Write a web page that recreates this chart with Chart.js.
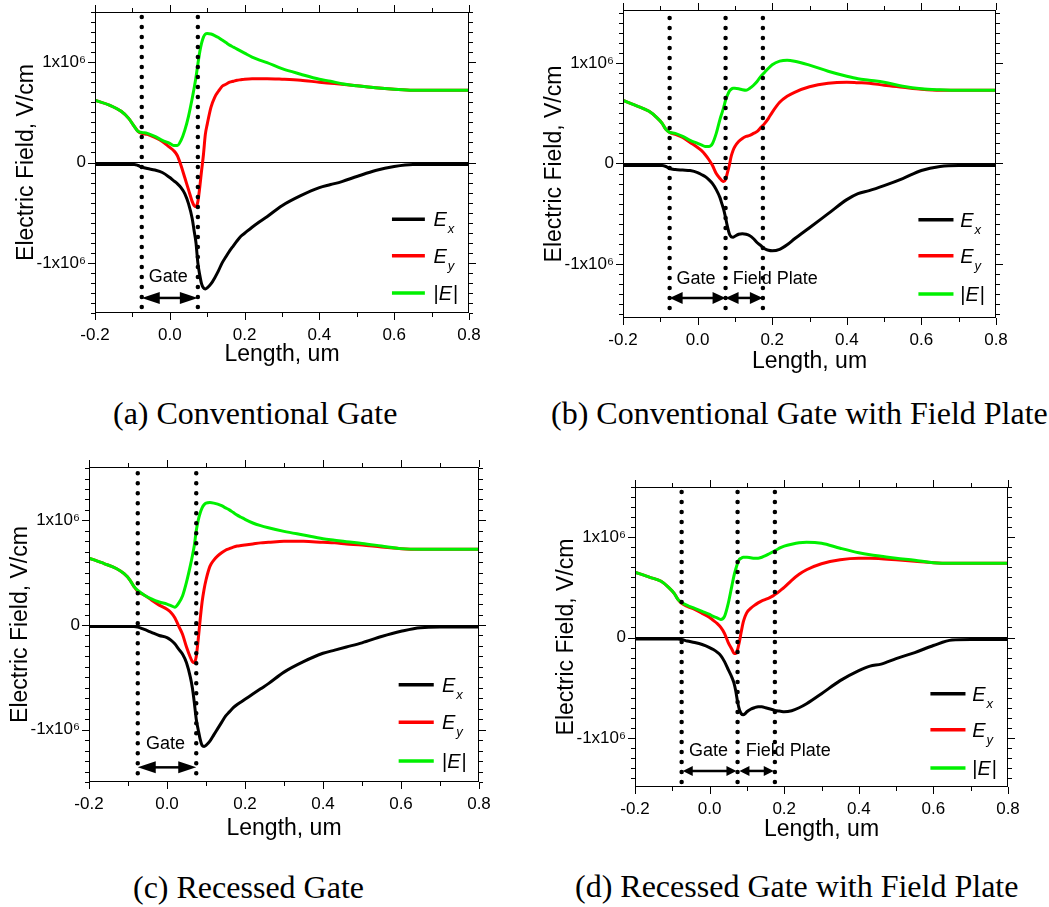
<!DOCTYPE html>
<html>
<head>
<meta charset="utf-8">
<script src="https://cdn.jsdelivr.net/npm/chart.js@4.4.0/dist/chart.umd.min.js"></script>
<style>
  body { margin: 0; background: #fff; width: 1049px; height: 907px; position: relative; overflow: hidden; }
  canvas { position: absolute; }
  .cap { position: absolute; font-family: "Liberation Serif", "Times New Roman", serif; font-size: 32px; line-height: 32px; white-space: nowrap; color: #000; }
</style>
</head>
<body>
<div class="cap" style="left:113px;top:397px">(a) Conventional Gate</div>
<div class="cap" style="left:551px;top:397px">(b) Conventional Gate with Field Plate</div>
<div class="cap" style="left:133px;top:871px">(c) Recessed Gate</div>
<div class="cap" style="left:575px;top:870px">(d) Recessed Gate with Field Plate</div>
<script>
// position along the channel, um
var LENGTH = [-0.2, -0.16, -0.13, -0.11, -0.095, -0.085, -0.075, -0.06, -0.04, -0.02, 0, 0.01, 0.02, 0.03, 0.04, 0.05, 0.06, 0.065, 0.07, 0.075, 0.08, 0.085, 0.09, 0.095, 0.1, 0.11, 0.12, 0.13, 0.14, 0.15, 0.16, 0.17, 0.18, 0.19, 0.2, 0.22, 0.24, 0.26, 0.3, 0.35, 0.4, 0.43, 0.46, 0.5, 0.55, 0.6, 0.65, 0.7, 0.8];

// field values in units of 1x10^6 V/cm
// (a) conventional gate
var A_EX = [-0.02,-0.02,-0.02,-0.02,-0.02,-0.03,-0.045,-0.06,-0.075,-0.10,-0.15,-0.18,-0.21,-0.25,-0.31,-0.41,-0.56,-0.68,-0.80,-1.00,-1.12,-1.21,-1.25,-1.26,-1.25,-1.21,-1.15,-1.08,-1.00,-0.94,-0.88,-0.83,-0.78,-0.735,-0.705,-0.645,-0.59,-0.54,-0.43,-0.33,-0.25,-0.22,-0.19,-0.14,-0.08,-0.04,-0.02,-0.02,-0.02];
var A_EY = [0.62,0.57,0.51,0.44,0.36,0.31,0.29,0.28,0.25,0.21,0.15,0.12,0.07,-0.03,-0.15,-0.27,-0.39,-0.43,-0.44,-0.39,-0.25,-0.08,0.08,0.28,0.38,0.55,0.65,0.71,0.76,0.78,0.80,0.81,0.82,0.825,0.83,0.835,0.835,0.835,0.83,0.82,0.80,0.79,0.78,0.765,0.745,0.73,0.72,0.72,0.72];
var A_E = [0.62,0.57,0.51,0.44,0.36,0.31,0.30,0.29,0.26,0.22,0.19,0.17,0.17,0.22,0.32,0.46,0.64,0.74,0.85,0.98,1.10,1.19,1.25,1.28,1.285,1.28,1.265,1.245,1.22,1.195,1.17,1.15,1.13,1.11,1.09,1.05,1.02,0.995,0.935,0.88,0.83,0.81,0.785,0.765,0.745,0.73,0.72,0.72,0.72];
// (b) conventional gate with field plate
var B_EX = [-0.02,-0.02,-0.02,-0.02,-0.02,-0.03,-0.05,-0.06,-0.065,-0.07,-0.09,-0.11,-0.13,-0.16,-0.20,-0.26,-0.34,-0.40,-0.46,-0.54,-0.63,-0.70,-0.73,-0.735,-0.725,-0.705,-0.70,-0.705,-0.72,-0.75,-0.79,-0.82,-0.85,-0.865,-0.87,-0.855,-0.81,-0.75,-0.64,-0.50,-0.36,-0.30,-0.27,-0.22,-0.15,-0.07,-0.03,-0.02,-0.02];
var B_EY = [0.63,0.57,0.52,0.46,0.40,0.34,0.31,0.29,0.26,0.21,0.16,0.13,0.09,0.04,-0.02,-0.10,-0.15,-0.17,-0.18,-0.16,-0.09,-0.02,0.07,0.13,0.17,0.22,0.25,0.27,0.28,0.30,0.32,0.36,0.40,0.45,0.51,0.61,0.67,0.71,0.765,0.80,0.81,0.805,0.80,0.78,0.76,0.74,0.73,0.73,0.73];
var B_E = [0.63,0.57,0.52,0.46,0.40,0.34,0.31,0.30,0.27,0.23,0.20,0.185,0.17,0.17,0.20,0.30,0.44,0.50,0.56,0.63,0.68,0.72,0.74,0.75,0.75,0.745,0.735,0.73,0.75,0.78,0.82,0.87,0.91,0.95,0.985,1.02,1.03,1.02,0.98,0.92,0.87,0.845,0.83,0.81,0.77,0.745,0.735,0.73,0.73];
// (c) recessed gate
var C_EX = [-0.015,-0.015,-0.015,-0.015,-0.015,-0.015,-0.02,-0.04,-0.07,-0.10,-0.12,-0.145,-0.18,-0.23,-0.28,-0.36,-0.50,-0.60,-0.74,-0.90,-1.00,-1.09,-1.15,-1.16,-1.15,-1.11,-1.05,-0.99,-0.93,-0.87,-0.83,-0.79,-0.76,-0.735,-0.71,-0.66,-0.61,-0.56,-0.45,-0.35,-0.27,-0.24,-0.21,-0.17,-0.11,-0.06,-0.025,-0.02,-0.02];
var C_EY = [0.64,0.585,0.54,0.49,0.43,0.37,0.32,0.29,0.24,0.19,0.15,0.12,0.07,-0.01,-0.09,-0.21,-0.31,-0.35,-0.36,-0.30,-0.14,0.05,0.22,0.34,0.43,0.56,0.62,0.66,0.69,0.715,0.73,0.745,0.755,0.76,0.765,0.775,0.785,0.79,0.80,0.80,0.79,0.785,0.775,0.765,0.745,0.73,0.725,0.725,0.725];
var C_E = [0.64,0.585,0.54,0.49,0.43,0.37,0.33,0.29,0.25,0.22,0.20,0.185,0.17,0.21,0.28,0.41,0.57,0.66,0.76,0.90,1.00,1.07,1.12,1.15,1.165,1.17,1.165,1.155,1.14,1.12,1.10,1.075,1.05,1.03,1.01,0.975,0.95,0.93,0.895,0.86,0.825,0.81,0.795,0.78,0.755,0.73,0.725,0.725,0.725];
// (d) recessed gate with field plate
var D_EX = [-0.015,-0.015,-0.015,-0.015,-0.015,-0.015,-0.02,-0.035,-0.05,-0.07,-0.10,-0.12,-0.145,-0.18,-0.24,-0.32,-0.40,-0.45,-0.53,-0.64,-0.72,-0.76,-0.77,-0.76,-0.74,-0.715,-0.70,-0.69,-0.69,-0.70,-0.71,-0.72,-0.73,-0.735,-0.74,-0.73,-0.70,-0.66,-0.56,-0.43,-0.33,-0.285,-0.265,-0.21,-0.15,-0.08,-0.025,-0.02,-0.02];
var D_EY = [0.65,0.60,0.56,0.50,0.44,0.38,0.34,0.31,0.28,0.24,0.20,0.17,0.14,0.10,0.04,-0.05,-0.12,-0.155,-0.16,-0.12,-0.04,0.06,0.15,0.21,0.25,0.29,0.32,0.345,0.365,0.38,0.395,0.415,0.44,0.47,0.50,0.57,0.63,0.675,0.735,0.775,0.79,0.79,0.785,0.775,0.76,0.745,0.74,0.74,0.74];
var D_E = [0.65,0.60,0.56,0.50,0.44,0.38,0.35,0.32,0.29,0.26,0.23,0.21,0.195,0.18,0.21,0.34,0.52,0.61,0.68,0.74,0.78,0.79,0.80,0.80,0.80,0.795,0.79,0.79,0.80,0.815,0.835,0.855,0.875,0.895,0.91,0.93,0.945,0.95,0.94,0.89,0.845,0.825,0.81,0.79,0.77,0.745,0.74,0.74,0.74];

// gate / field plate edges (dotted lines), um
var GATE_EDGES = [-0.075, 0.075];
var FP_EDGES = [-0.075, 0.075, 0.175];

var X_TICKS = [-0.2, 0, 0.2, 0.4, 0.6, 0.8];
var Y_TICKS = [-1, 0, 1];
var Y_LABELS = ['-1x10\u2076', '0', '1x10\u2076'];

var SANS = '"Liberation Sans", Arial, sans-serif';
var GREEN = '#00f000', RED = '#ff0000', BLACK = '#000000';

// box = plot area on the page [left, top, right, bottom]
var panels = [
  { box: [95, 12, 469, 313], yMin: -1.5, yMax: 1.5, xh: 55, ex: A_EX, ey: A_EY, e: A_E, edges: GATE_EDGES,
    labels: [['Gate', -0.004, -1.14]], arrows: [[-0.075, 0.075, -1.35]], head: 18,
    legend: { x1: 0.594, x2: 0.682, tx: 0.705, rows: [-0.565, -0.93, -1.30] } },
  { box: [623, 10, 996, 318], yMin: -1.54, yMax: 1.53, xh: 57, ex: B_EX, ey: B_EY, e: B_E, edges: FP_EDGES,
    labels: [['Gate', -0.004, -1.15], ['Field Plate', 0.208, -1.15]], arrows: [[-0.075, 0.075, -1.34], [0.075, 0.175, -1.34]], head: 13,
    legend: { x1: 0.592, x2: 0.686, tx: 0.704, rows: [-0.56, -0.92, -1.30] } },
  { box: [89, 467, 479, 782], yMin: -1.5, yMax: 1.51, xh: 60, ex: C_EX, ey: C_EY, e: C_E, edges: GATE_EDGES,
    labels: [['Gate', -0.004, -1.14]], arrows: [[-0.075, 0.075, -1.36]], head: 18,
    legend: { x1: 0.594, x2: 0.684, tx: 0.705, rows: [-0.57, -0.93, -1.30] } },
  { box: [635, 487, 1008, 787], yMin: -1.49, yMax: 1.5, xh: 56, ex: D_EX, ey: D_EY, e: D_E, edges: FP_EDGES,
    labels: [['Gate', -0.003, -1.13], ['Field Plate', 0.211, -1.13]], arrows: [[-0.072, 0.072, -1.33], [0.08, 0.172, -1.33]], head: 10,
    legend: { x1: 0.592, x2: 0.686, tx: 0.704, rows: [-0.56, -0.92, -1.30] } }
];

// frame with outward ticks on all four sides
var frameTicks = {
  id: 'frameTicks',
  afterDraw: function (chart) {
    var ctx = chart.ctx, a = chart.chartArea, x = chart.scales.x, y = chart.scales.y;
    ctx.save();
    ctx.strokeStyle = '#000';
    ctx.lineWidth = 1;
    ctx.strokeRect(a.left + 0.5, a.top + 0.5, a.right - a.left - 1, a.bottom - a.top - 1);
    ctx.beginPath();
    for (var i = -2; i <= 8; i++) {
      var px = Math.round(x.getPixelForValue(i / 10)) + 0.5;
      var len = (i % 2 === 0) ? 7 : 4;
      ctx.moveTo(px, a.bottom); ctx.lineTo(px, a.bottom + len);
      ctx.moveTo(px, a.top); ctx.lineTo(px, a.top - len);
    }
    for (var k = Math.ceil(y.min * 10); k <= Math.floor(y.max * 10); k++) {
      var py = Math.round(y.getPixelForValue(k / 10)) + 0.5;
      var l2 = (k % 10 === 0) ? 7 : 4;
      ctx.moveTo(a.left, py); ctx.lineTo(a.left - l2, py);
      ctx.moveTo(a.right, py); ctx.lineTo(a.right + l2, py);
    }
    ctx.stroke();
    ctx.restore();
  }
};

function drawArrow(ctx, xa, xb, yy, h) {
  var w = h > 12 ? 6 : 5;
  ctx.lineWidth = 2.5;
  ctx.beginPath();
  ctx.moveTo(xa + h - 2, yy); ctx.lineTo(xb - h + 2, yy);
  ctx.stroke();
  ctx.beginPath();
  ctx.moveTo(xa, yy); ctx.lineTo(xa + h, yy - w); ctx.lineTo(xa + h, yy + w); ctx.closePath();
  ctx.moveTo(xb, yy); ctx.lineTo(xb - h, yy - w); ctx.lineTo(xb - h, yy + w); ctx.closePath();
  ctx.fill();
}

function makeNotes(p) {
  return {
    id: 'notes',
    afterDatasetsDraw: function (chart) {
      var ctx = chart.ctx, x = chart.scales.x, y = chart.scales.y;
      ctx.save();
      ctx.fillStyle = '#000';
      ctx.strokeStyle = '#000';
      ctx.textAlign = 'center';
      ctx.textBaseline = 'middle';
      ctx.font = '18px ' + SANS;
      p.labels.forEach(function (t) {
        ctx.fillText(t[0], x.getPixelForValue(t[1]), y.getPixelForValue(t[2]));
      });
      p.arrows.forEach(function (r) {
        drawArrow(ctx, x.getPixelForValue(r[0]), x.getPixelForValue(r[1]), y.getPixelForValue(r[2]), p.head);
      });

      // legend
      var L = p.legend;
      var items = [[BLACK, 'x'], [RED, 'y'], [GREEN, null]];
      var x1 = x.getPixelForValue(L.x1), x2 = x.getPixelForValue(L.x2), tx = x.getPixelForValue(L.tx);
      ctx.textAlign = 'left';
      ctx.textBaseline = 'alphabetic';
      items.forEach(function (it, i) {
        var yy = y.getPixelForValue(L.rows[i]);
        ctx.strokeStyle = it[0];
        ctx.lineWidth = 3.5;
        ctx.beginPath(); ctx.moveTo(x1, yy); ctx.lineTo(x2, yy); ctx.stroke();
        var base = yy + 7;
        var cx = tx;
        if (it[1]) {
          ctx.font = 'italic 20px ' + SANS;
          ctx.fillText('E', cx, base);
          cx += ctx.measureText('E').width + 1;
          ctx.font = 'italic 13px ' + SANS;
          ctx.fillText(it[1], cx, base + 7);
        } else {
          ctx.font = '20px ' + SANS;
          ctx.fillText('|', cx, base);
          cx += ctx.measureText('|').width;
          ctx.font = 'italic 20px ' + SANS;
          ctx.fillText('E', cx, base);
          cx += ctx.measureText('E').width + 1;
          ctx.font = '20px ' + SANS;
          ctx.fillText('|', cx, base);
        }
      });
      ctx.restore();
    }
  };
}

function pts(ys) {
  return LENGTH.map(function (v, i) { return { x: v, y: ys[i] }; });
}

panels.forEach(function (p) {
  var left = p.box[0], top = p.box[1], right = p.box[2], bottom = p.box[3];
  var cv = document.createElement('canvas');
  cv.width = right - left + 90 + 22;
  cv.height = bottom - top + 12 + p.xh;
  cv.style.left = (left - 90) + 'px';
  cv.style.top = (top - 12) + 'px';
  document.body.appendChild(cv);

  var datasets = p.edges.map(function (ex) {
    return {
      label: 'edge', data: [{ x: ex, y: 1.45 }, { x: ex, y: p.yMin }],
      borderColor: BLACK, borderWidth: 4.5, borderDash: [0, 10], borderCapStyle: 'round',
      pointRadius: 0, order: 0
    };
  });
  datasets.push({ label: '|E|', data: pts(p.e), borderColor: GREEN, borderWidth: 3, pointRadius: 0, cubicInterpolationMode: 'monotone', order: 1 });
  datasets.push({ label: 'Ey', data: pts(p.ey), borderColor: RED, borderWidth: 3, pointRadius: 0, cubicInterpolationMode: 'monotone', order: 2 });
  datasets.push({ label: 'Ex', data: pts(p.ex), borderColor: BLACK, borderWidth: 3, pointRadius: 0, cubicInterpolationMode: 'monotone', order: 3 });

  new Chart(cv.getContext('2d'), {
    type: 'line',
    data: { datasets: datasets },
    options: {
      responsive: false,
      animation: false,
      layout: { padding: { left: 5, top: 12, right: 22, bottom: 0 } },
      plugins: { legend: { display: false }, tooltip: { enabled: false } },
      scales: {
        x: {
          type: 'linear', min: -0.2, max: 0.8,
          afterBuildTicks: function (s) { s.ticks = X_TICKS.map(function (v) { return { value: v }; }); },
          afterFit: function (s) { s.height = p.xh; s.paddingLeft = 0; s.paddingRight = 0; },
          grid: { display: false, drawTicks: false },
          border: { display: false },
          ticks: { padding: 12, color: '#000', maxRotation: 0, autoSkip: false, font: { family: SANS, size: 17 },
                   callback: function (v) { return v.toFixed(1); } },
          title: { display: true, text: 'Length, um', color: '#000', font: { family: SANS, size: 23 }, padding: { top: 0, bottom: 0 } }
        },
        y: {
          type: 'linear', min: p.yMin, max: p.yMax,
          afterBuildTicks: function (s) { s.ticks = Y_TICKS.map(function (v) { return { value: v }; }); },
          afterFit: function (s) { s.width = 85; s.paddingTop = 0; s.paddingBottom = 0; },
          grid: { drawTicks: false, lineWidth: 1,
                  color: function (c) { return c.tick && c.tick.value === 0 ? '#000' : 'rgba(0,0,0,0)'; } },
          border: { display: false },
          ticks: { padding: 9, color: '#000', font: { family: SANS, size: 17 },
                   callback: function (v) { var i = Y_TICKS.indexOf(v); return i < 0 ? '' : Y_LABELS[i]; } },
          title: { display: true, text: 'Electric Field, V/cm', color: '#000', font: { family: SANS, size: 23 }, padding: { top: 3, bottom: 0 } }
        }
      }
    },
    plugins: [frameTicks, makeNotes(p)]
  });
});
</script>
</body>
</html>
